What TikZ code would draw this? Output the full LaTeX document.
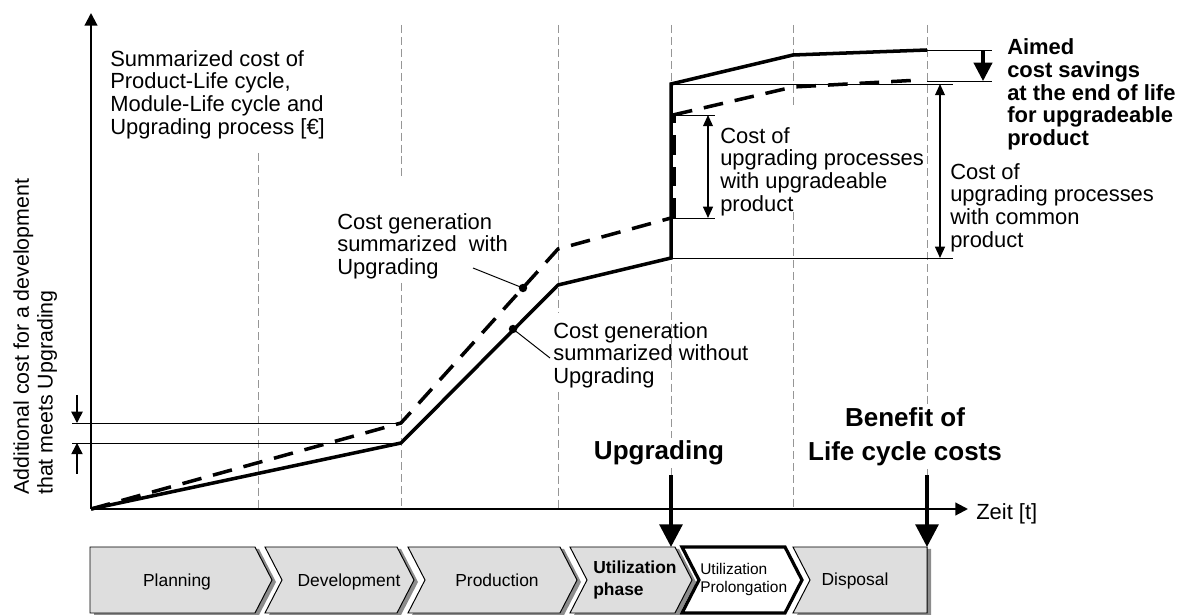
\documentclass[tikz,border=0pt]{standalone}
\usepackage{fontspec}
\setmainfont{Liberation Sans}
\usetikzlibrary{arrows.meta}
\definecolor{grid-color}{RGB}{150,150,150}
\definecolor{phase-color}{RGB}{222,222,222}
\definecolor{shadow-color}{RGB}{140,140,140}

\begin{document}
\begin{tikzpicture}[x=0.025cm, y=-0.025cm,
    txt/.style={font=\fontsize{15.6}{16.2}\selectfont, align=left, inner sep=0pt, anchor=north west},
    boldtxt/.style={txt, font=\fontsize{15.6}{16.3}\selectfont\bfseries},
    bigtxt/.style={font=\fontsize{18.5}{24}\selectfont\bfseries, align=center, inner sep=2pt, fill=white},
    phasetxt/.style={font=\fontsize{12.4}{15.4}\selectfont, align=left, inner sep=0pt},
    gridline/.style={grid-color, line width=0.7pt, dash pattern=on 5.7pt off 2.8pt},
    thinline/.style={line width=0.7pt},
    costline/.style={line width=2.5pt},
    upline/.style={line width=2.5pt, dash pattern=on 14pt off 8.5pt},
    axis/.style={line width=1.5pt, -{Triangle[length=9pt,width=9pt]}},
    dimarrow/.style={line width=1pt, {Triangle[length=8pt,width=7pt]}-{Triangle[length=8pt,width=7pt]}},
    markarrow/.style={line width=2.8pt, -{Triangle[length=16pt,width=16pt]}},
    phase/.style={draw, line width=0.7pt, fill=phase-color},
    shadow/.style={fill=shadow-color, shift={(4,2)}}]
    \useasboundingbox (0,0) rectangle (1184,615);

    \coordinate (O) at (91,509);

    % grid
    \draw[gridline] (258,153) -- (258,509);
    \draw[gridline] (401,25) -- (401,180) (401,283) -- (401,509);
    \draw[gridline] (558,25) -- (558,312) (558,392) -- (558,509);
    \draw[gridline] (671,25) -- (671,509);
    \draw[gridline] (793,25) -- (793,108) (793,212) -- (793,509);
    \draw[gridline] (927,25) -- (927,509);

    % helper lines
    \draw[thinline] (72,423) -- (401,423) (72,443) -- (401,443);
    \draw[thinline] (671,84) -- (953,84) (671,258) -- (953,258);
    \draw[thinline] (671,115) -- (715,115) (671,218) -- (715,218);
    \draw[thinline] (927,50) -- (992,50) (927,81) -- (992,81);

    % cost curves
    \draw[costline] (O) -- (401,443) -- (558,285) -- (671,258) -- (671,84) -- (793,55) -- (927,50);
    \draw[upline] (O) -- (401,423) -- (558,249) -- (671,218);
    \draw[upline] (674,218) -- (674,115);
    \draw[upline] (673,115) -- (793,87) -- (920,80);

    \draw[axis] (O) -- (91,13);
    \draw[axis] (O) -- (968,509);

    \draw[dimarrow] (940,84) -- (940,258);
    \draw[dimarrow] (708,115) -- (708,218);
    \draw[line width=2.2pt, -{Triangle[length=13pt,width=13pt]}] (983,51) -- (983,81);
    \draw[line width=1.1pt, -{Triangle[length=8pt,width=8pt]}] (77,395) -- (77,423);
    \draw[line width=1.1pt, -{Triangle[length=8pt,width=8pt]}] (77,474) -- (77,443);

    % labels
    \node[txt] (sumcost) at (110,50) {Summarized cost of\\Product-Life cycle,\\Module-Life cycle and\\Upgrading process [€]};
    \node[txt] (withup) at (337,213) {Cost generation\\summarized\ \ with\\Upgrading};
    \node[txt] (withoutup) at (553,322) {Cost generation\\summarized without\\Upgrading};
    \node[txt] (upcost) at (720,127) {Cost of\\upgrading processes\\with upgradeable\\product};
    \node[txt] (commoncost) at (950,163) {Cost of\\upgrading processes\\with common\\product};
    \node[boldtxt] (aimed) at (1007,38) {Aimed\\cost savings\\at the end of life\\for upgradeable\\product};
    \node[txt, font=\fontsize{15.2}{17}\selectfont, rotate=90] (addcost) at (13,495) {Additional cost for a development\\that meets Upgrading};
    \node[txt, anchor=base west] (zeit) at (976,520) {Zeit [t]};

    \coordinate (dotwith) at (523,288);
    \coordinate (dotwithout) at (513,329);
    \coordinate (ptrwith) at (473,268);
    \coordinate (ptrwithout) at (550,358);
    \draw[thinline] (ptrwith) -- (dotwith);
    \draw[thinline] (dotwithout) -- (ptrwithout);
    \fill (dotwith) circle (3pt);
    \fill (dotwithout) circle (3pt);

    \node[bigtxt, anchor=base] (upgrading) at (659,460) {Upgrading};
    \node[bigtxt, anchor=south] (benefit) at (905,469) {Benefit of\\Life cycle costs};
    \draw[markarrow] (671,475) -- (671,547);
    \draw[markarrow] (927,475) -- (927,547);

    % phases
    \fill[shadow] (90,547) -- (255,547) -- (272,580) -- (255,613) -- (90,613) -- cycle;
    \draw[phase] (90,547) -- (255,547) -- (272,580) -- (255,613) -- (90,613) -- cycle;
    \foreach \l/\r in {265/397, 408/560, 570/675} {
        \fill[shadow] (\l,547) -- (\r,547) -- (\r+17,580) -- (\r,613) -- (\l,613) -- (\l+17,580) -- cycle;
        \draw[phase] (\l,547) -- (\r,547) -- (\r+17,580) -- (\r,613) -- (\l,613) -- (\l+17,580) -- cycle;
    }
    \draw[line width=2.3pt, fill=white] (682,547) -- (785,547) -- (802,580) -- (785,613) -- (682,613) -- (699,580) -- cycle;
    \fill[shadow] (793,547) -- (927,547) -- (927,613) -- (793,613) -- (810,580) -- cycle;
    \draw[phase] (793,547) -- (927,547) -- (927,613) -- (793,613) -- (810,580) -- cycle;

    \node[phasetxt, anchor=base] (planning) at (177,586.5) {Planning};
    \node[phasetxt, anchor=base] (development) at (349,586.5) {Development};
    \node[phasetxt, anchor=base] (production) at (497,586.5) {Production};
    \node[phasetxt, font=\fontsize{12.4}{15.4}\selectfont\bfseries, anchor=north west] (utilization) at (593,561) {Utilization\\phase};
    \node[phasetxt, font=\fontsize{11}{13}\selectfont, anchor=north west] (prolongation) at (700,563) {Utilization\\Prolongation};
    \node[phasetxt, anchor=base] (disposal) at (855,585) {Disposal};
\end{tikzpicture}
\end{document}
